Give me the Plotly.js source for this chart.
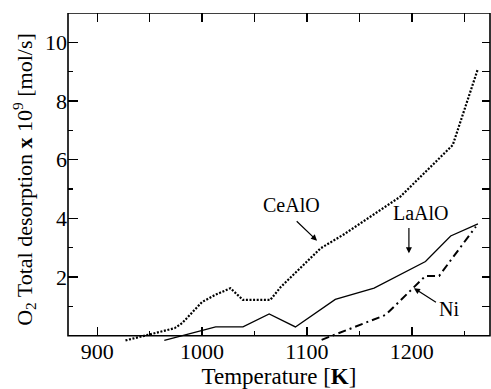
<!DOCTYPE html>
<html>
<head>
<meta charset="utf-8">
<script src="https://cdn.plot.ly/plotly-3.0.1.min.js"></script>
<style>html,body{margin:0;padding:0;background:#fff}#chart{width:491px;height:389px}</style>
</head>
<body>
<div id="chart"></div>
<script>
// CeAlO (dotted)
const ceX = [927, 948, 974, 981, 1000, 1013, 1027, 1039, 1065, 1075, 1113, 1135, 1189, 1239, 1263];
const ceY = [-0.16, 0.03, 0.26, 0.43, 1.15, 1.4, 1.62, 1.22, 1.22, 1.66, 2.98, 3.45, 4.74, 6.5, 9.1];
// LaAlO (solid)
const laX = [964, 1013, 1039, 1064, 1089, 1127, 1164, 1213, 1237, 1263];
const laY = [-0.16, 0.3, 0.3, 0.74, 0.3, 1.24, 1.62, 2.53, 3.4, 3.81];
// Ni (dash-dot)
const niX = [1114, 1175, 1213, 1226, 1261];
const niY = [-0.14, 0.71, 2.04, 2.04, 3.72];

const xRange = [872.2, 1274.5];
const yRange = [-0.35, 11];
const xMajor = [900, 1000, 1100, 1200];
const xMinor = [950, 1050, 1150, 1250];
const yMajor = [2, 4, 6, 8, 10];
const yMinor = [1, 3, 5, 7, 9];
const topTicks = [900, 950, 1000, 1050, 1100, 1150, 1200, 1250];
const rightTicks = [1, 2, 3, 4, 5, 6, 7, 8, 9, 10];

const FONT = '"Liberation Serif", "Times New Roman", Times, serif';

const traces = [
  {x: ceX, y: ceY, mode: 'lines', line: {color: '#000', width: 2.2, dash: '2px,1.6px'}, name: 'CeAlO'},
  {x: laX, y: laY, mode: 'lines', line: {color: '#000', width: 1.3}, name: 'LaAlO'},
  {x: niX, y: niY, mode: 'lines', line: {color: '#000', width: 2, dash: '8px,4px,2px,4px'}, name: 'Ni'},
  {x: [xRange[0]], y: [5], xaxis: 'x2', yaxis: 'y2', mode: 'markers', marker: {opacity: 0}, hoverinfo: 'skip', showlegend: false}
];

const pos = (0 - yRange[0]) / (yRange[1] - yRange[0]);

const layout = {
  width: 491, height: 389,
  margin: {l: 68, r: 1, t: 13, b: 43},
  paper_bgcolor: '#fff', plot_bgcolor: '#fff',
  showlegend: false,
  font: {family: FONT, color: '#000', size: 22},
  xaxis: {
    range: xRange, anchor: 'free', position: pos,
    tickmode: 'array', tickvals: xMajor, ticks: 'inside', ticklen: 9, tickwidth: 1.3, tickcolor: '#000',
    minor: {tickmode: 'array', tickvals: xMinor, ticks: 'inside', ticklen: 5, tickwidth: 1.3, tickcolor: '#000'},
    showgrid: false, zeroline: false, showline: false,
    tickfont: {family: FONT, size: 22, color: '#000'},
    title: {text: 'Temperature [<b>K</b>]', font: {family: FONT, size: 23, color: '#000'}, standoff: 4}
  },
  yaxis: {
    range: yRange,
    tickmode: 'array', tickvals: yMajor, ticks: 'inside', ticklen: 10, tickwidth: 1.3, tickcolor: '#000',
    minor: {tickmode: 'array', tickvals: yMinor, ticks: 'inside', ticklen: 5, tickwidth: 1.3, tickcolor: '#000'},
    showgrid: false, zeroline: false, showline: false,
    tickfont: {family: FONT, size: 22, color: '#000'},
    title: {text: 'O<sub>2</sub> Total desorption <b>x</b> 10<sup>9</sup> [mol/s]', font: {family: FONT, size: 22, color: '#000'}, standoff: 6}
  },
  xaxis2: {
    range: xRange, overlaying: 'x', side: 'top', anchor: 'y',
    tickmode: 'array', tickvals: topTicks, ticks: 'inside', ticklen: 9, tickwidth: 1.3, tickcolor: '#000',
    showticklabels: false, showgrid: false, zeroline: false, showline: false
  },
  yaxis2: {
    range: yRange, overlaying: 'y', side: 'right', anchor: 'x',
    tickmode: 'array', tickvals: rightTicks, ticks: 'inside', ticklen: 8, tickwidth: 1.3, tickcolor: '#000',
    showticklabels: false, showgrid: false, zeroline: false, showline: false
  },
  shapes: [
    {type: 'rect', xref: 'paper', x0: 0, x1: 1, yref: 'y', y0: 0, y1: 11, line: {color: '#000', width: 1.6}, fillcolor: 'rgba(0,0,0,0)'}
  ],
  annotations: [
    {x: 1085, y: 4.46, xref: 'x', yref: 'y', text: 'CeAlO', showarrow: false, font: {family: FONT, size: 20, color: '#000'}},
    {x: 1208.4, y: 4.18, xref: 'x', yref: 'y', text: 'LaAlO', showarrow: false, font: {family: FONT, size: 20, color: '#000'}},
    {x: 1235.2, y: 0.92, xref: 'x', yref: 'y', text: 'Ni', showarrow: false, font: {family: FONT, size: 20, color: '#000'}},
    {x: 1109.6, y: 3.24, ax: 1088.8, ay: 3.95, xref: 'x', yref: 'y', axref: 'x', ayref: 'y', text: '', showarrow: true, arrowhead: 2, arrowsize: 1, arrowwidth: 1.2, arrowcolor: '#000'},
    {x: 1197.2, y: 2.81, ax: 1197.2, ay: 3.72, xref: 'x', yref: 'y', axref: 'x', ayref: 'y', text: '', showarrow: true, arrowhead: 2, arrowsize: 1, arrowwidth: 1.2, arrowcolor: '#000'},
    {x: 1202, y: 1.62, ax: 1224.4, ay: 1.11, xref: 'x', yref: 'y', axref: 'x', ayref: 'y', text: '', showarrow: true, arrowhead: 2, arrowsize: 1, arrowwidth: 1.2, arrowcolor: '#000'}
  ]
};

Plotly.newPlot('chart', traces, layout, {displayModeBar: false, staticPlot: true});
</script>
</body>
</html>
